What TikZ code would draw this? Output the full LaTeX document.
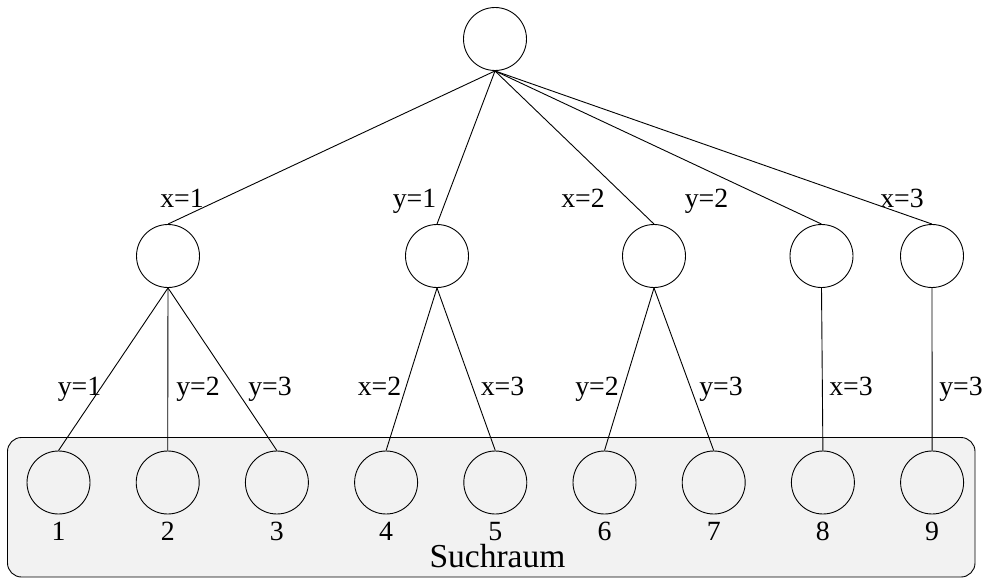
\documentclass[tikz,border=0pt]{standalone}
\usepackage{fontspec}
\setmainfont{Liberation Serif}
\definecolor{raumgrau}{RGB}{242,242,242}

\begin{document}
\begin{tikzpicture}[x=1pt,y=-1pt,line width=0.9pt,
    knoten/.style={draw,circle,minimum size=63pt,inner sep=0pt},
    lbl/.style={font=\fontsize{27.8}{31}\selectfont,inner sep=0pt,anchor=base}]
      \useasboundingbox (0,0) rectangle (988,578);
      % search space
      \draw[fill=raumgrau,rounded corners=14pt] (7.5,437.5) rectangle (975,577);
      \node[lbl,font=\fontsize{33.5}{37}\selectfont] (raum) at (497.5,567.5) {Suchraum};
      % tree
      \node[knoten] (root) at (495,39) {};
      \foreach \i/\x in {1/168,2/437,3/654,4/821.5,5/932} {
        \node[knoten] (a\i) at (\x,256) {};
        \draw (root.south) -- (a\i.north);
      }
      \foreach \j in {1,...,9} {
        \node[knoten] (s\j) at (58.5+109.2*\j-109.2,482.5) {};
        \node[lbl] (n\j) at (58.5+109.2*\j-109.2,540.5) {\j};
      }
      \foreach \i/\j in {1/1,1/2,1/3,2/4,2/5,3/6,3/7,4/8,5/9} {
        \draw (a\i.south) -- (s\j.north);
      }
      % edge labels
      \node[lbl] (l1) at (182,207) {x=1};
      \node[lbl] (l2) at (414.5,207) {y=1};
      \node[lbl] (l3) at (583,207) {x=2};
      \node[lbl] (l4) at (706.5,207) {y=2};
      \node[lbl] (l5) at (902,207) {x=3};
      \node[lbl] (m1) at (79.5,395) {y=1};
      \node[lbl] (m2) at (198,395) {y=2};
      \node[lbl] (m3) at (270,395) {y=3};
      \node[lbl] (m4) at (379.5,395) {x=2};
      \node[lbl] (m5) at (502.5,395) {x=3};
      \node[lbl] (m6) at (597,395) {y=2};
      \node[lbl] (m7) at (721,395) {y=3};
      \node[lbl] (m8) at (851,395) {x=3};
      \node[lbl] (m9) at (961,395) {y=3};
    \end{tikzpicture}
\end{document}
